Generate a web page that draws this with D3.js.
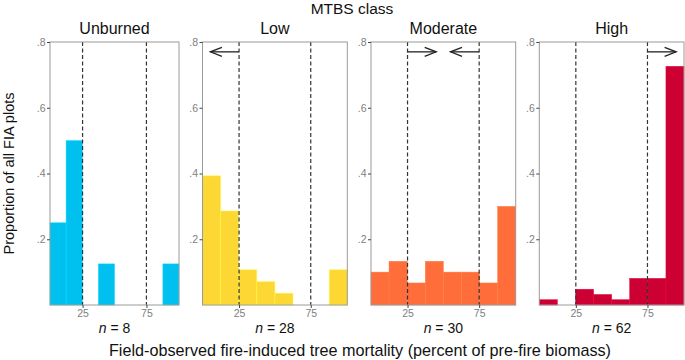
<!DOCTYPE html>
<html>
<head>
<meta charset="utf-8">
<script src="https://cdn.jsdelivr.net/npm/d3@7/dist/d3.min.js"></script>
<style>
  body { margin: 0; background: #fff; }
  svg { display: block; font-family: "Liberation Sans", Arial, sans-serif; }
</style>
</head>
<body>
<div id="chart"></div>
<script>
// MTBS classes and plot counts
const classes = ["Unburned", "Low", "Moderate", "High"];
const nPlots = [8, 28, 30, 62];
const colors = ["#00c0f0", "#fdd835", "#fe6d3a", "#cc0033"];

// histogram bin edges (percent mortality) and proportions per bin
const binEdges = [-0.5, 12.1, 24.8, 37.4, 50, 62.6, 75.3, 87.9, 100.5];
const unburned = [0.25, 0.5, 0, 0.125, 0, 0, 0, 0.125];
const low = [0.393, 0.286, 0.107, 0.071, 0.036, 0, 0, 0.107];
const moderate = [0.1, 0.133, 0.067, 0.133, 0.1, 0.1, 0.067, 0.3];
const high = [0.016, 0, 0.048, 0.032, 0.016, 0.081, 0.081, 0.726];
const series = [unburned, low, moderate, high];

// reference lines and arrows (from -> to, in percent)
const refLines = [25, 75];
const arrowY = 0.77;
const arrows = [
  [],
  [[25, 5]],
  [[25, 45], [75, 55]],
  [[75, 95]]
];

const xTicks = [25, 75];
const yTicks = [0.2, 0.4, 0.6, 0.8];
const yFmt = d => d3.format(".1f")(d).replace(/^0/, "");

const width = 685, height = 360;
const plotTop = 42, plotBottom = 305;
// panel extents (plot areas)
const panelLeft = [50, 202.5, 371, 539.3];
const panelRight = [179, 347.3, 515.7, 684];

const svg = d3.select("#chart").append("svg")
  .attr("width", width).attr("height", height);

const y = d3.scaleLinear().domain([0, 0.8]).range([plotBottom, plotTop]);

classes.forEach((cls, i) => {
  const x = d3.scaleLinear().domain([binEdges[0], binEdges[binEdges.length - 1]])
    .range([panelLeft[i], panelRight[i]]);
  const g = svg.append("g");
  const cx = (panelLeft[i] + panelRight[i]) / 2;

  // bars
  const bins = series[i].map((v, k) => ({ x0: binEdges[k], x1: binEdges[k + 1], v }));
  g.selectAll(".bar").data(bins.filter(d => d.v > 0)).join("rect")
    .attr("x", d => x(d.x0))
    .attr("width", d => x(d.x1) - x(d.x0))
    .attr("y", d => y(d.v))
    .attr("height", d => y(0) - y(d.v))
    .attr("fill", colors[i])
    .attr("stroke", d3.color(colors[i]).brighter(0.4))
    .attr("stroke-width", 0.5);

  // dashed reference lines
  g.selectAll(".ref").data(refLines).join("line")
    .attr("x1", d => x(d)).attr("x2", d => x(d))
    .attr("y1", plotTop).attr("y2", plotBottom)
    .attr("stroke", "#333")
    .attr("stroke-width", 1.2)
    .attr("stroke-dasharray", "4,2.5");

  // arrows
  arrows[i].forEach(([from, to]) => {
    const x0 = x(from), x1 = x(to), yy = y(arrowY);
    const dir = Math.sign(x1 - x0);
    g.append("line")
      .attr("x1", x0).attr("x2", x1).attr("y1", yy).attr("y2", yy)
      .attr("stroke", "#222").attr("stroke-width", 1.3);
    g.append("path")
      .attr("d", `M${x1 - dir * 11.5},${yy - 4.5}L${x1},${yy}L${x1 - dir * 11.5},${yy + 4.5}`)
      .attr("fill", "none").attr("stroke", "#222").attr("stroke-width", 1.3);
  });

  // panel frame
  g.append("rect")
    .attr("x", panelLeft[i]).attr("y", plotTop)
    .attr("width", panelRight[i] - panelLeft[i]).attr("height", plotBottom - plotTop)
    .attr("fill", "none").attr("stroke", "#9a9a9a").attr("stroke-width", 1);

  // axes
  const xAxis = g.append("g")
    .attr("transform", `translate(0,${plotBottom})`)
    .call(d3.axisBottom(x).tickValues(xTicks).tickSize(3).tickPadding(2));
  xAxis.select(".domain").remove();
  xAxis.selectAll("line").attr("stroke", "#444");
  xAxis.selectAll("text").attr("fill", "#808080").style("font-size", "10.5px")
    .style("font-family", "Liberation Sans, Arial, sans-serif");

  const yAxis = g.append("g")
    .attr("transform", `translate(${panelLeft[i]},0)`)
    .call(d3.axisLeft(y).tickValues(yTicks).tickFormat(yFmt).tickSize(3).tickPadding(1.5));
  yAxis.select(".domain").remove();
  yAxis.selectAll("line").attr("stroke", "#444");
  yAxis.selectAll("text").attr("fill", "#808080").style("font-size", "10.5px")
    .style("font-family", "Liberation Sans, Arial, sans-serif");

  // facet title
  g.append("text")
    .attr("x", cx).attr("y", 34)
    .attr("text-anchor", "middle")
    .style("font-size", "16px").attr("fill", "#111")
    .text(cls);

  // n label
  const nt = g.append("text")
    .attr("x", cx).attr("y", 333)
    .attr("text-anchor", "middle")
    .style("font-size", "14px").attr("fill", "#111");
  nt.append("tspan").style("font-style", "italic").text("n");
  nt.append("tspan").text(" = " + nPlots[i]);
});

// overall titles
svg.append("text")
  .attr("x", 352).attr("y", 14)
  .attr("text-anchor", "middle")
  .style("font-size", "15.5px").attr("fill", "#111")
  .text("MTBS class");

svg.append("text")
  .attr("transform", `translate(14,${(plotTop + plotBottom) / 2}) rotate(-90)`)
  .attr("text-anchor", "middle")
  .style("font-size", "14.5px").attr("fill", "#111")
  .text("Proportion of all FIA plots");

svg.append("text")
  .attr("x", 360).attr("y", 356)
  .attr("text-anchor", "middle")
  .style("font-size", "16.2px").attr("fill", "#111")
  .text("Field-observed fire-induced tree mortality (percent of pre-fire biomass)");
</script>
</body>
</html>
